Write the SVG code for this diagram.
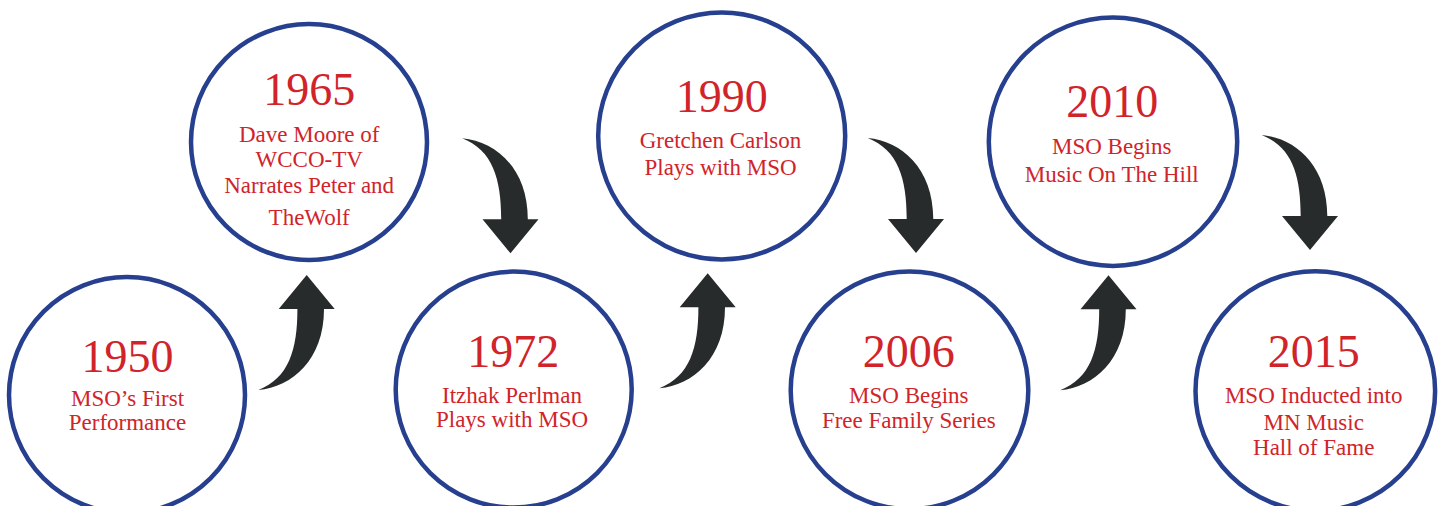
<svg xmlns="http://www.w3.org/2000/svg" xmlns:xlink="http://www.w3.org/1999/xlink" width="1445" height="506" viewBox="0 0 1445 506">
<style>
.c{fill:#ffffff;stroke:#263f8f;stroke-width:4.5}
.y{font-family:"Liberation Serif","Times New Roman",serif;font-size:46px;fill:#d1232a;text-anchor:middle}
.t{font-family:"Liberation Serif","Times New Roman",serif;font-size:23px;fill:#d1232a;text-anchor:middle}
.a{fill:#282b2b}
</style>
<defs>
<path id="arr" d="M -48.3,-115 C -15,-112 17.3,-85 17.3,-34 L 28,-34 L 0,0 L -28,-34 L -9.3,-34 C -9.3,-75 -18,-103 -48.3,-115 Z"/>
</defs>
<rect width="1445" height="506" fill="#ffffff"/>
<g id="connectors" class="a">
<use xlink:href="#arr" transform="translate(306.7,275) scale(1,-1)"/>
<use xlink:href="#arr" transform="translate(510.5,253.3)"/>
<use xlink:href="#arr" transform="translate(707.7,273.3) scale(1,-1)"/>
<use xlink:href="#arr" transform="translate(916,253)"/>
<use xlink:href="#arr" transform="translate(1108.5,275.3) scale(1,-1)"/>
<use xlink:href="#arr" transform="translate(1310,250)"/>
</g>
<g id="n1950">
<circle class="c" cx="127" cy="395" r="118"/>
<text class="y" x="127.5" y="371.7">1950</text>
<text class="t" x="127.5" y="406">MSO’s First</text>
<text class="t" x="127.5" y="430">Performance</text>
</g>
<g id="n1965">
<circle class="c" cx="309" cy="142" r="118"/>
<text class="y" x="309.2" y="105">1965</text>
<text class="t" x="309.2" y="141.7">Dave Moore of</text>
<text class="t" x="309.2" y="166.7">WCCO-TV</text>
<text class="t" x="309.2" y="192.7">Narrates Peter and</text>
<text class="t" x="309.2" y="225">TheWolf</text>
</g>
<g id="n1972">
<circle class="c" cx="513.7" cy="389.6" r="118"/>
<text class="y" x="513.3" y="367.3">1972</text>
<text class="t" x="512" y="402.7">Itzhak Perlman</text>
<text class="t" x="512" y="426.7">Plays with MSO</text>
</g>
<g id="n1990">
<circle class="c" cx="721.7" cy="136" r="123.5"/>
<text class="y" x="721.7" y="111.7">1990</text>
<text class="t" x="720.5" y="148.3">Gretchen Carlson</text>
<text class="t" x="720.5" y="175">Plays with MSO</text>
</g>
<g id="n2006">
<circle class="c" cx="909.5" cy="390.3" r="118.8"/>
<text class="y" x="908.7" y="366.7">2006</text>
<text class="t" x="908.8" y="403.3">MSO Begins</text>
<text class="t" x="908.8" y="428.3">Free Family Series</text>
</g>
<g id="n2010">
<circle class="c" cx="1113" cy="141.7" r="124.2"/>
<text class="y" x="1112.2" y="116.7">2010</text>
<text class="t" x="1111.7" y="154">MSO Begins</text>
<text class="t" x="1111.7" y="181.7">Music On The Hill</text>
</g>
<g id="n2015">
<circle class="c" cx="1315.3" cy="391" r="119.8"/>
<text class="y" x="1313.7" y="366.7">2015</text>
<text class="t" x="1313.7" y="403.3">MSO Inducted into</text>
<text class="t" x="1313.7" y="430">MN Music</text>
<text class="t" x="1313.7" y="455">Hall of Fame</text>
</g>
</svg>
